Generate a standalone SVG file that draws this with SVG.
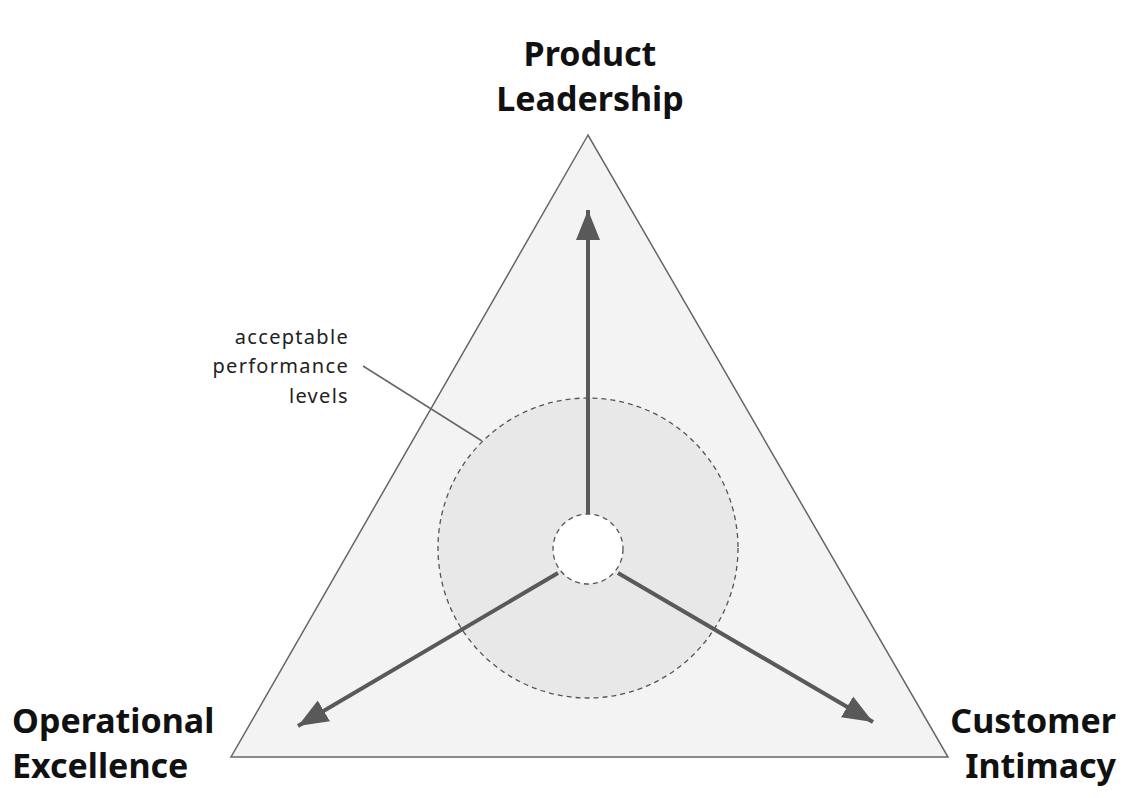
<svg xmlns="http://www.w3.org/2000/svg" width="1128" height="798" viewBox="0 0 1128 798">
<defs>
<style>
.title{font-family:"Noto Sans","Liberation Sans",sans-serif;font-weight:700;font-size:34px;fill:#111}
.note{font-family:"Noto Sans","Liberation Sans",sans-serif;font-size:20px;letter-spacing:1.3px;fill:#222}
.arrow{stroke:#595959;stroke-width:4;fill:none}
</style>
<marker id="ah" viewBox="0 0 10 10" refX="10" refY="5" markerWidth="7.5" markerHeight="7.5" markerUnits="strokeWidth" orient="auto">
<path d="M0,1 L10,5 L0,9 Z" fill="#595959"/>
</marker>
</defs>
<rect width="1128" height="798" fill="#fff"/>
<g id="triangle">
<polygon points="588,135 231,757 948,757" fill="#f3f3f3" stroke="#666" stroke-width="1.5"/>
</g>
<g id="performance-zone">
<circle cx="588" cy="548" r="150" fill="#e8e8e8" stroke="#555" stroke-width="1.3" stroke-dasharray="5,4"/>
</g>
<g id="center">
<circle cx="588" cy="549" r="35" fill="#fff" stroke="#555" stroke-width="1.3" stroke-dasharray="5,4"/>
</g>
<g id="connectors">
<line class="arrow" x1="588" y1="514" x2="588" y2="210" marker-end="url(#ah)"/>
<line class="arrow" x1="558" y1="573" x2="298" y2="726" marker-end="url(#ah)"/>
<line class="arrow" x1="618" y1="573" x2="873" y2="722" marker-end="url(#ah)"/>
<line x1="363" y1="366" x2="482" y2="441" stroke="#666" stroke-width="1.5"/>
</g>
<g id="label-product">
<text class="title" x="590" y="66" text-anchor="middle">Product</text>
<text class="title" x="590" y="111" text-anchor="middle">Leadership</text>
</g>
<g id="label-operational">
<text class="title" x="12" y="733">Operational</text>
<text class="title" x="12" y="778">Excellence</text>
</g>
<g id="label-customer">
<text class="title" x="1116" y="733" text-anchor="end">Customer</text>
<text class="title" x="1116" y="778" text-anchor="end">Intimacy</text>
</g>
<g id="label-acceptable">
<text class="note" x="349" y="344" text-anchor="end">acceptable</text>
<text class="note" x="349" y="373" text-anchor="end">performance</text>
<text class="note" x="349" y="403" text-anchor="end">levels</text>
</g>
</svg>
